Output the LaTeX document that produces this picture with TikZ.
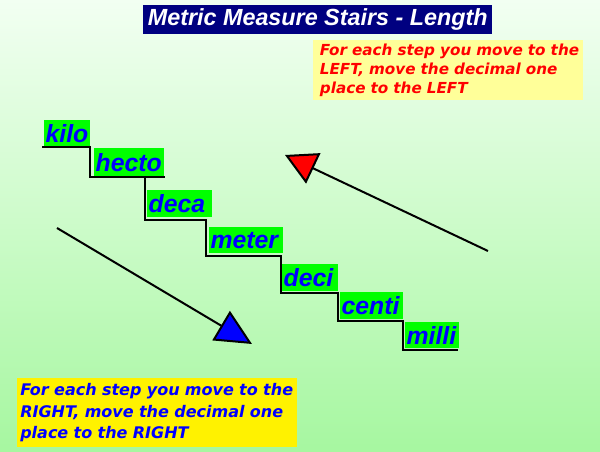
\documentclass[tikz,border=0pt]{standalone}
\usepackage{fontspec}
\setmainfont{Liberation Sans}
\newfontfamily\verdfont{DejaVu Sans}
\usetikzlibrary{arrows.meta}
\definecolor{bgtop}{HTML}{F2FFF2}
\definecolor{bgbot}{HTML}{A6F7A0}
\definecolor{navy}{HTML}{000080}
\definecolor{paleyellow}{HTML}{FFFF99}
\definecolor{wordgreen}{HTML}{00FF00}
\definecolor{wordblue}{HTML}{0000FF}
\begin{document}
\begin{tikzpicture}[x=0.75pt,y=-0.75pt,
  word/.style={anchor=north west, fill=wordgreen, inner xsep=1pt, inner ysep=0pt,
    align=left, text=wordblue, font=\fontsize{18.6}{19}\selectfont\bfseries\itshape},
  stair/.style={draw=black, line width=1.9pt, line cap=rect},
  arrowline/.style={draw=black, line width=1.5pt},
  note/.style={anchor=north west, inner xsep=0pt, inner ysep=0pt, align=left}
]
\useasboundingbox (0,0) rectangle (600,452);
\shade[top color=bgtop, bottom color=bgbot] (0,0) rectangle (600,452);

% title
\node[anchor=north west, fill=navy, text=white, minimum width=261.75pt, minimum height=21.75pt,
  inner sep=0pt, font=\fontsize{17.5}{18}\selectfont\bfseries\itshape] (title) at (143,5)
  {Metric Measure Stairs - Length};

% notes
\node[note, fill=paleyellow, text=red, text width=202.5pt, minimum height=45pt,
  font=\verdfont\fontsize{11.4}{14.4}\selectfont\bfseries\itshape] (leftnote) at (313,40)
  {\hspace*{5pt}For each step you move to the\\\hspace*{5pt}LEFT, move the decimal one\\\hspace*{5pt}place to the LEFT};
\node[note, fill=yellow, text=wordblue, text width=210pt, minimum height=51.75pt,
  font=\verdfont\fontsize{12}{16.3}\selectfont\bfseries\itshape] (rightnote) at (17,378)
  {\hspace*{2.25pt}For each step you move to the\\\hspace*{2.25pt}RIGHT, move the decimal one\\\hspace*{2.25pt}place to the RIGHT};

% stair words
\node[word, text width=32.5pt, minimum height=20.25pt] (kilo) at (44,120) {kilo};
\node[word, text width=50.5pt, minimum height=21pt] (hecto) at (94,148) {hecto};
\node[word, text width=46.75pt, minimum height=20.25pt] (deca) at (147,190) {deca};
\node[word, text width=53.5pt, minimum height=19.5pt] (meter) at (209,227) {meter};
\node[word, text width=40pt, minimum height=20.25pt] (deci) at (282,264) {deci};
\node[word, text width=45.25pt, minimum height=20.25pt] (centi) at (340,292) {centi};
\node[word, text width=38.5pt, minimum height=19.5pt] (milli) at (405,322) {milli};

% stair lines
\draw[stair] (43,147) -- (90,147) -- (90,177) -- (164,177);
\draw[stair] (145,177) -- (145,220) -- (206,220);
\draw[stair] (206,220) -- (206,256) -- (281,256);
\draw[stair] (281,256) -- (281,293) -- (338,293);
\draw[stair] (338,293) -- (338,321) -- (403,321);
\draw[stair] (403,321) -- (403,350) -- (457,350);

% arrows
\coordinate (redstart) at (488,251);
\coordinate (redtip) at (285,155);
\coordinate (bluestart) at (57,228);
\coordinate (bluetip) at (252,344);
\draw[arrowline, -{Triangle[length=23.5pt,width=25pt,fill=red,line join=miter]}] (redstart) -- (redtip);
\draw[arrowline, -{Triangle[length=27pt,width=25.5pt,fill=wordblue,line join=miter]}] (bluestart) -- (bluetip);
\end{tikzpicture}
\end{document}
